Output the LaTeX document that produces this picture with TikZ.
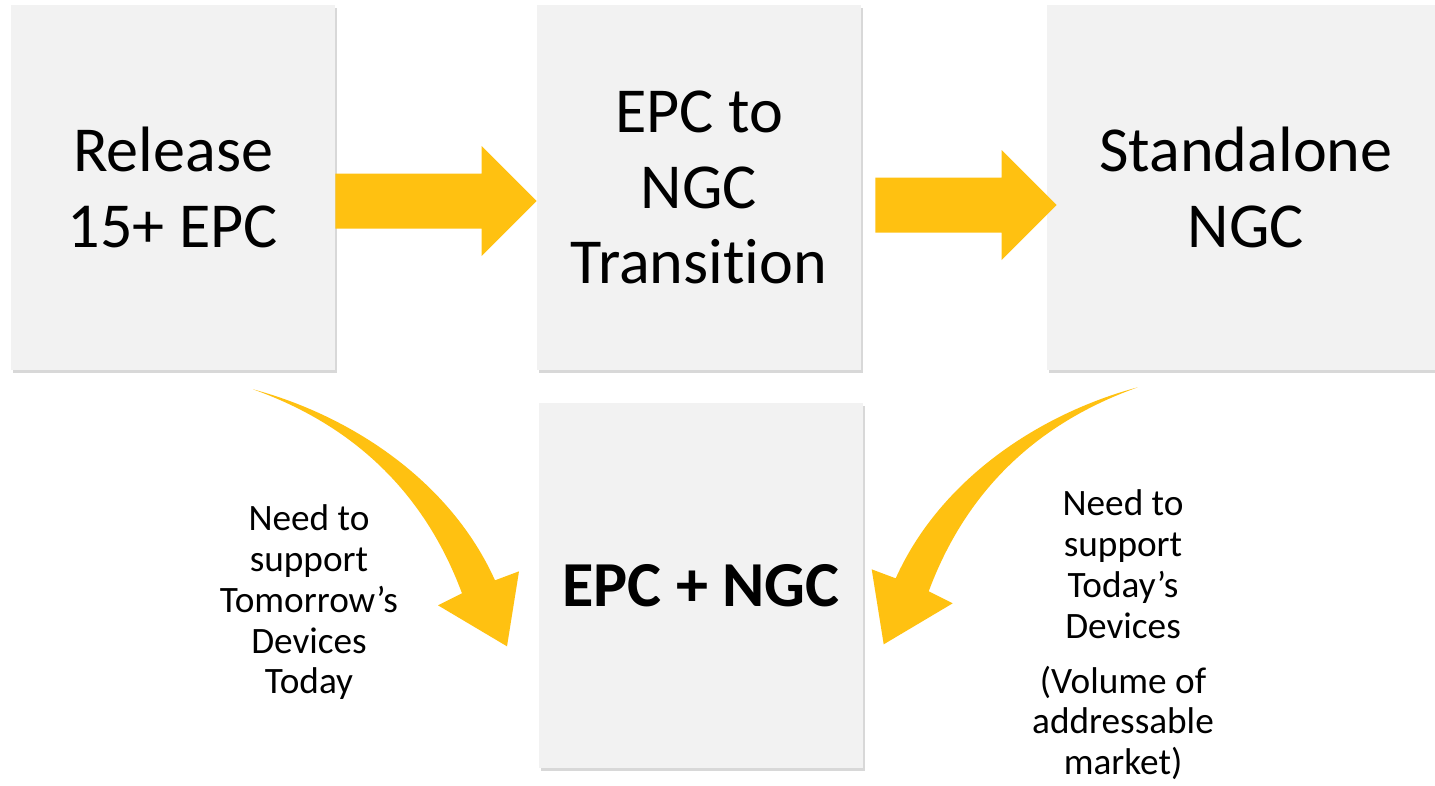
\documentclass[tikz,border=0pt]{standalone}
\usepackage{fontspec}
\setmainfont{Carlito}[Ligatures=NoCommon]
\usetikzlibrary{shadows,calc}

\definecolor{boxgray}{RGB}{242,242,242}
\definecolor{arrowgold}{RGB}{255,193,17}

\tikzset{
  stage/.style={fill=boxgray, minimum width=6.48cm, minimum height=7.3cm,
    align=center, inner sep=0pt, font=\fontsize{36.5}{43}\selectfont,
    drop shadow={shadow xshift=1.2pt, shadow yshift=-1.8pt, opacity=0.3}},
  note/.style={align=center, inner sep=0pt, anchor=north,
    font=\fontsize{21.2}{23.3}\selectfont},
  goldarrow/.style={fill=arrowgold},
}

% straight block arrow from #1 to #2
\newcommand\blockarrow[2]{%
  \fill[goldarrow] ($(#1)+(0,-27.5)$) -- ($(#2)+(-55,-27.5)$) -- ($(#2)+(-55,-55)$)
    -- (#2) -- ($(#2)+(-55,55)$) -- ($(#2)+(-55,27.5)$) -- ($(#1)+(0,27.5)$) -- cycle;}
% bent arrow, tail at the origin
\newcommand\bentarrow{%
  \fill[goldarrow] (0,0) .. controls (97,26) and (197,91) .. (242,191) -- (266,182)
    -- (254,257) -- (185,216) -- (209,204) .. controls (167,91) and (87,31) .. (0,0) -- cycle;}

\begin{document}
\begin{tikzpicture}[x=0.02cm, y=-0.02cm]
\useasboundingbox (0,0) rectangle (1435,785);
\clip (0,0) rectangle (1435,785);
\fill[white] (0,0) rectangle (1435,785);

% Stages
\node[stage] (rel) at (173,187.5) {Release\\15+ EPC};
\node[stage] (trans) at (699,187.5) {EPC to\\NGC\\Transition};
\node[stage, minimum width=7.96cm] (alone) at (1246,187.5) {Standalone\\NGC};
\node[stage, font=\fontsize{36.5}{43}\selectfont\bfseries] (both) at (701,585.5) {EPC + NGC};

% Straight arrows
\coordinate (a1s) at ($(rel.east)+(0,13.5)$);
\coordinate (a1e) at ($(trans.west)+(0,13.5)$);
\coordinate (a2s) at ($(trans.east)+(14,17.5)$);
\coordinate (a2e) at ($(alone.west)+(10,17.5)$);
\blockarrow{a1s}{a1e}
\blockarrow{a2s}{a2e}

% Bent arrows down to the combined core
\coordinate (c1) at ($(rel.south)+(80,19)$);
\coordinate (c2) at ($(alone.south west)+(91,17)$);
\begin{scope}[shift={(c1)}]
  \bentarrow
\end{scope}
\begin{scope}[shift={(c2)}, xscale=-1]
  \bentarrow
\end{scope}

% Notes
\node[note] (tomorrow) at (309,504) {Need to\\support\\Tomorrow’s\\Devices\\Today};
\node[note] (today) at (1123,489) {Need to\\support\\Today’s\\Devices\\[8pt](Volume of\\addressable\\market)};

\end{tikzpicture}
\end{document}
